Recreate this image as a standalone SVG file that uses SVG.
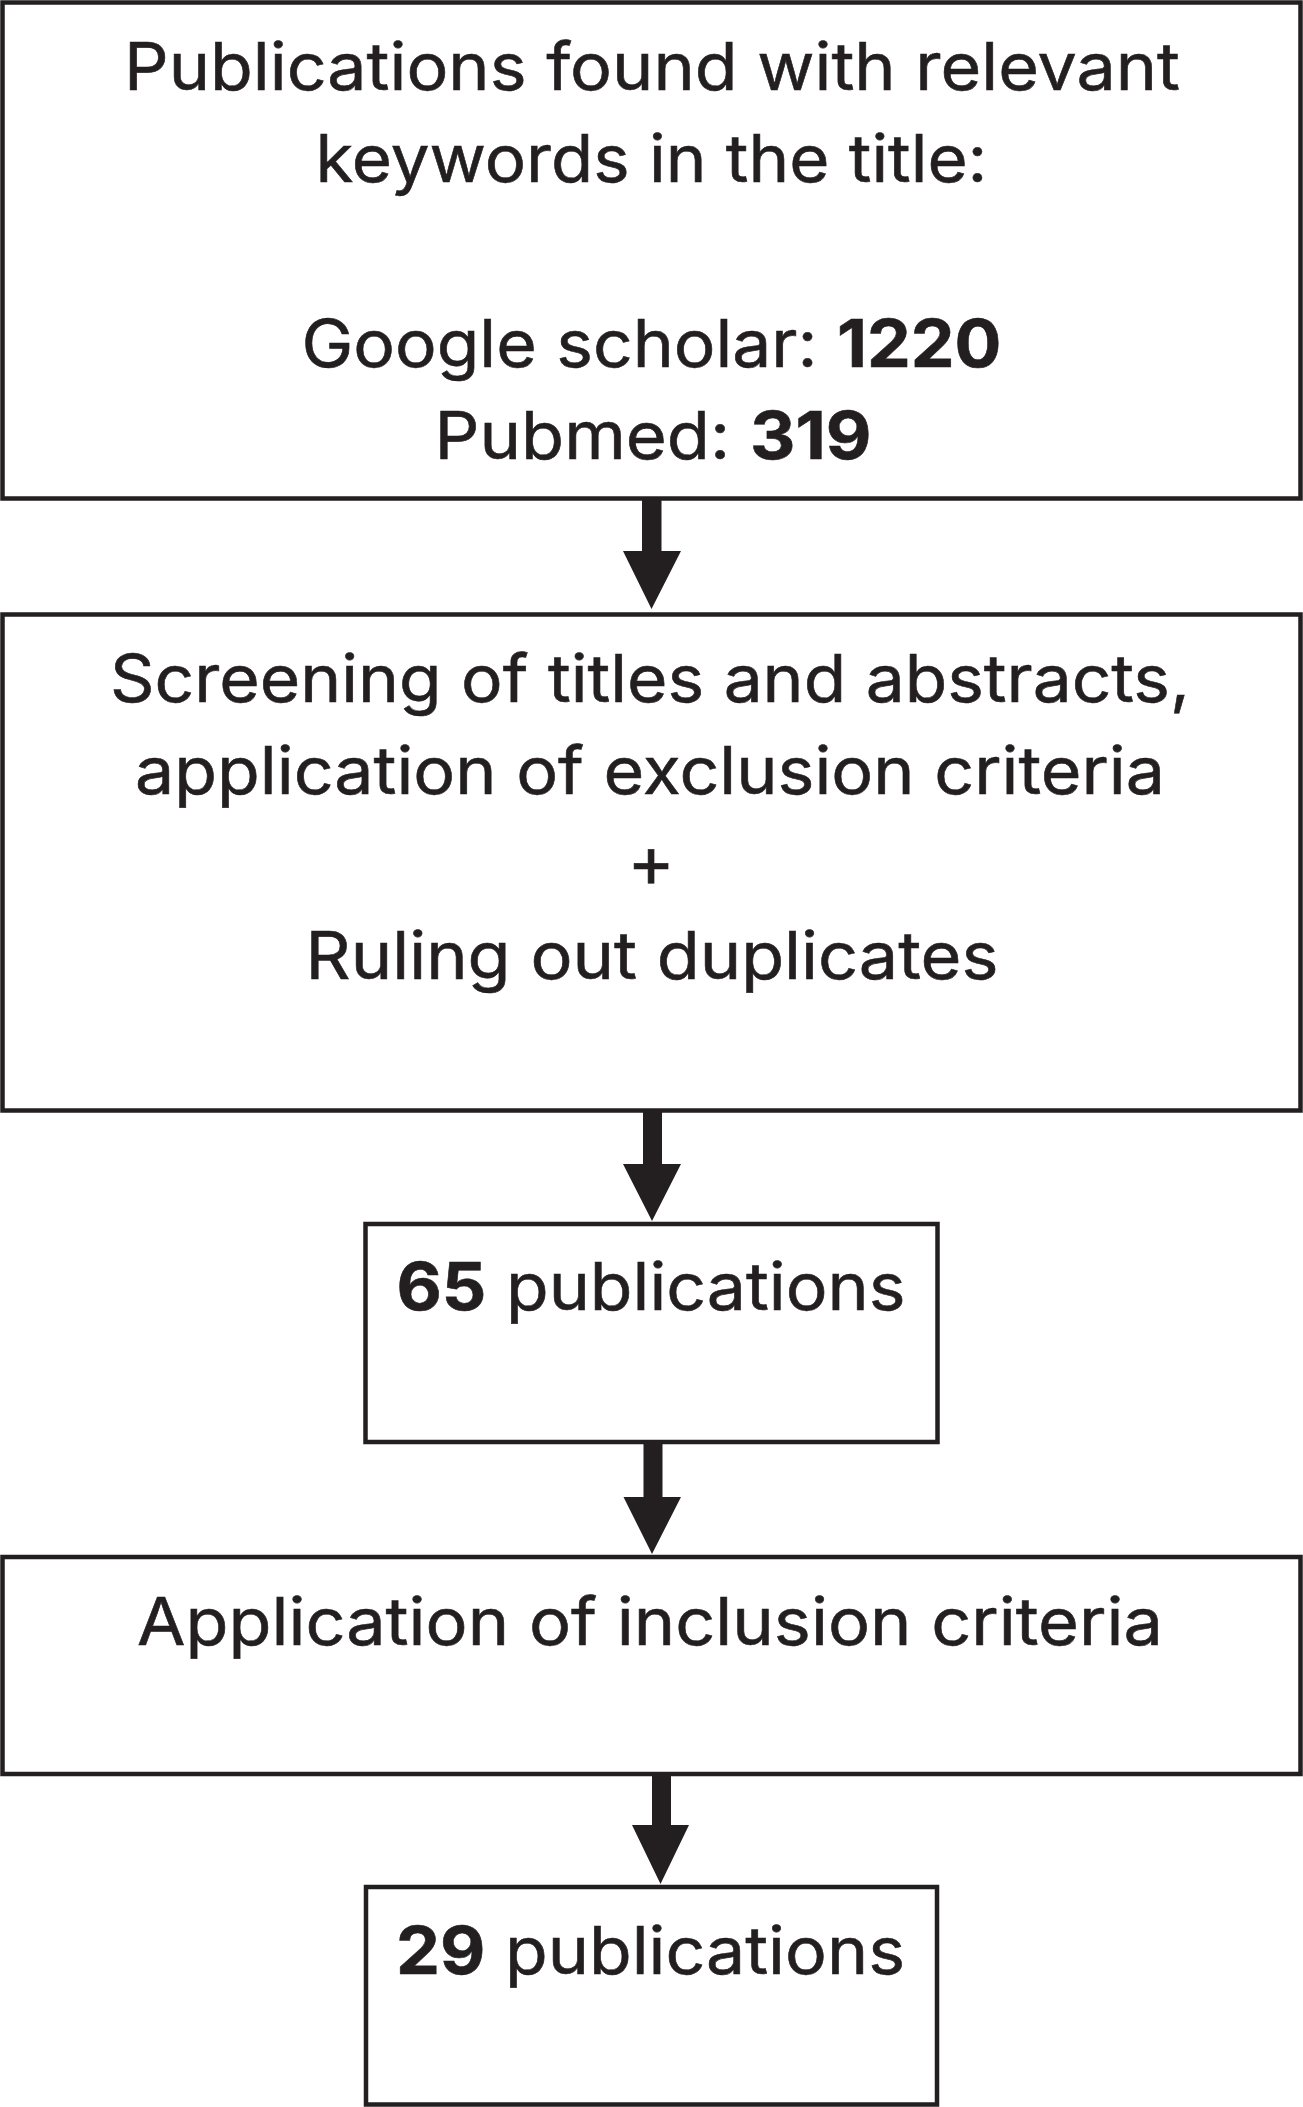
<svg xmlns="http://www.w3.org/2000/svg" width="1303" height="2107" viewBox="0 0 1303 2107">
<style>
.box{fill:#ffffff;stroke:#231f20;stroke-width:4.5}
.t{font-family:Inter,"Liberation Sans",Arial,sans-serif;font-size:66px;fill:#231f20;text-anchor:middle;stroke:#231f20;stroke-width:0.6}
.b{font-weight:bold}
.arr{fill:#231f20;stroke:none}
</style>
<rect x="0" y="0" width="1303" height="2107" fill="#ffffff"/>
<g id="node1">
<rect class="box" x="2.5" y="2.5" width="1298" height="496"/>
<text class="t" x="652" y="90" textLength="1056" lengthAdjust="spacingAndGlyphs">Publications found with relevant</text>
<text class="t" x="651.5" y="182" textLength="672" lengthAdjust="spacingAndGlyphs">keywords in the title:</text>
<text class="t" x="651.5" y="367" textLength="700" lengthAdjust="spacingAndGlyphs">Google scholar: <tspan class="b">1220</tspan></text>
<text class="t" x="653" y="459" textLength="437" lengthAdjust="spacingAndGlyphs">Pubmed: <tspan class="b">319</tspan></text>
</g>
<g id="node2">
<rect class="box" x="2.5" y="614.5" width="1298" height="496"/>
<text class="t" x="650" y="702" textLength="1080" lengthAdjust="spacingAndGlyphs">Screening of titles and abstracts,</text>
<text class="t" x="650" y="794" textLength="1030" lengthAdjust="spacingAndGlyphs">application of exclusion criteria</text>
<text class="t" x="651" y="887" style="font-size:72px">+</text>
<text class="t" x="652" y="979" textLength="693" lengthAdjust="spacingAndGlyphs">Ruling out duplicates</text>
</g>
<g id="node3">
<rect class="box" x="365.5" y="1224" width="572" height="218"/>
<text class="t" x="651" y="1310" textLength="509" lengthAdjust="spacingAndGlyphs"><tspan class="b">65</tspan> publications</text>
</g>
<g id="node4">
<rect class="box" x="2.5" y="1557" width="1298" height="217"/>
<text class="t" x="650" y="1645" textLength="1026" lengthAdjust="spacingAndGlyphs">Application of inclusion criteria</text>
</g>
<g id="node5">
<rect class="box" x="366" y="1887" width="571" height="217.5"/>
<text class="t" x="650.5" y="1974" textLength="509" lengthAdjust="spacingAndGlyphs"><tspan class="b">29</tspan> publications</text>
</g>
<g id="connectors">
<path class="arr" d="M642,500 H661.5 V551 H681 L651.5,609 L623,551 H642 Z"/>
<path class="arr" d="M643,1112 H662 V1164 H681 L652,1221 L623,1164 H643 Z"/>
<path class="arr" d="M643.5,1444 H662.5 V1497 H681 L652,1554 L623.5,1497 H643.5 Z"/>
<path class="arr" d="M652,1776 H671 V1825 H689 L660.5,1884 L632,1825 H652 Z"/>
</g>
</svg>
